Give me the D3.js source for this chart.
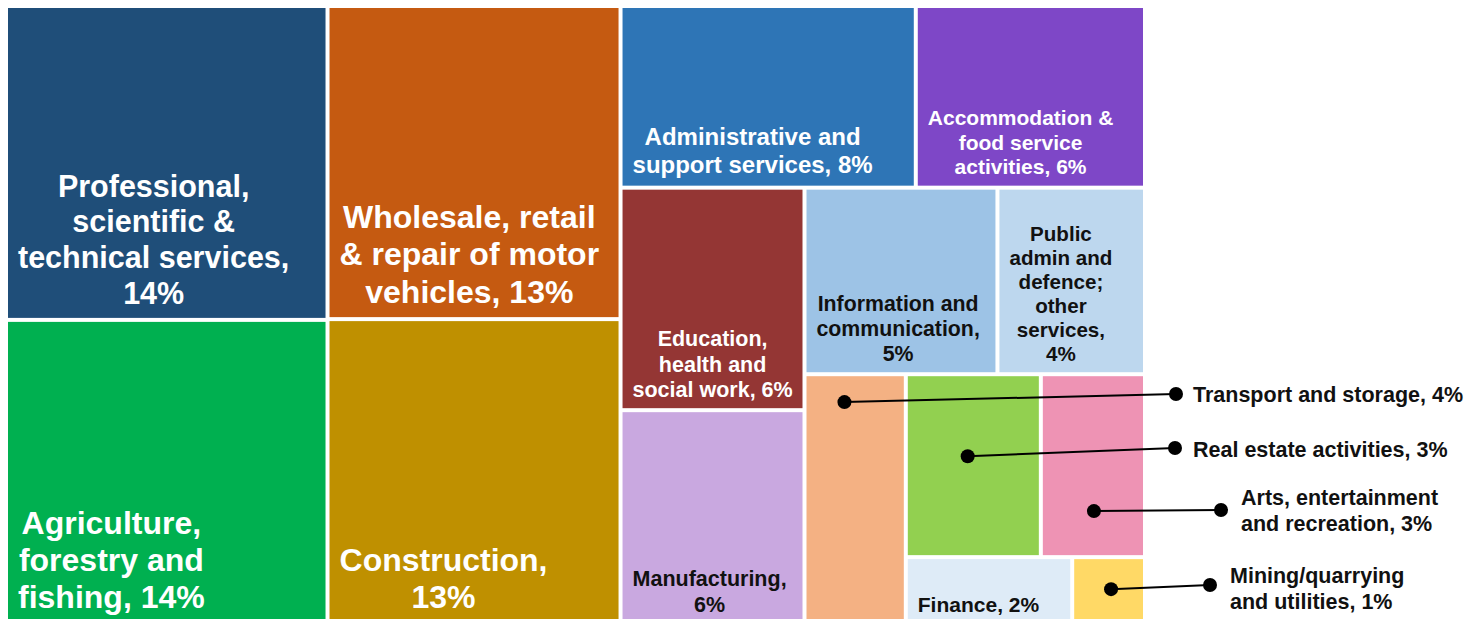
<!DOCTYPE html>
<html>
<head>
<meta charset="utf-8">
<script src="https://cdn.jsdelivr.net/npm/d3@7"></script>
<style>
  body { margin: 0; background: #fff; }
  svg { display: block; font-family: "Liberation Sans", Arial, sans-serif; font-weight: bold; }
</style>
</head>
<body>
<div id="chart"></div>
<script>
// Share of businesses by sector (%)
const sectors = [
  "Professional, scientific & technical services",
  "Agriculture, forestry and fishing",
  "Wholesale, retail & repair of motor vehicles",
  "Construction",
  "Administrative and support services",
  "Accommodation & food service activities",
  "Education, health and social work",
  "Manufacturing",
  "Information and communication",
  "Public admin and defence; other services",
  "Transport and storage",
  "Real estate activities",
  "Arts, entertainment and recreation",
  "Finance",
  "Mining/quarrying and utilities"
];
const shares = [14.3, 13.9, 13.0, 12.7, 7.6, 5.9, 5.8, 5.6, 5.1, 3.9, 3.6, 3.5, 2.7, 1.6, 0.7];
const colours = ["#1F4E79", "#00B050", "#C55A11", "#BF9000", "#2E75B6", "#7E47C7", "#943634",
                 "#C9A8E0", "#9DC3E6", "#BDD7EE", "#F4B183", "#92D050", "#EE93B4", "#DEEBF7", "#FFD966"];

// label text, wrapped as in the original
const labelLines = [
  ["Professional,", "scientific &", "technical services,", "14%"],
  ["Agriculture,", "forestry and", "fishing, 14%"],
  ["Wholesale, retail", "& repair of motor", "vehicles, 13%"],
  ["Construction,", "13%"],
  ["Administrative and", "support services, 8%"],
  ["Accommodation &", "food service", "activities, 6%"],
  ["Education,", "health and", "social work, 6%"],
  ["Manufacturing,", "6%"],
  ["Information and", "communication,", "5%"],
  ["Public", "admin and", "defence;", "other", "services,", "4%"],
  ["Transport and storage, 4%"],
  ["Real estate activities, 3%"],
  ["Arts, entertainment", "and recreation, 3%"],
  ["Finance, 2%"],
  ["Mining/quarrying", "and utilities, 1%"]
];

// nesting of the tiles (indices into the arrays above)
const nesting = [[0, 1], [2, 3], [[4, 5], [[6, 7], [[8, 9], [10, [[11, 12], [13, 14]]]]]]];

const width = 1468, height = 619;
const margin = { top: 8, left: 8 };
const mapW = 1135, mapH = 615;

const svg = d3.select("#chart").append("svg")
    .attr("width", width)
    .attr("height", height);

function build(n) {
  if (typeof n === "number") return { i: n, value: shares[n] };
  return { children: n.map(build) };
}

const root = d3.hierarchy(build(nesting)).sum(d => d.value || 0);

d3.treemap()
    .tile(d3.treemapSliceDice)
    .size([mapW, mapH])
    .paddingInner(4)
    .round(false)(root);

const leaves = root.leaves();
const g = svg.append("g").attr("transform", `translate(${margin.left},${margin.top})`);

g.selectAll("rect")
  .data(leaves)
  .enter()
  .append("rect")
    .attr("x", d => d.x0)
    .attr("y", d => d.y0)
    .attr("width", d => d.x1 - d.x0)
    .attr("height", d => d.y1 - d.y0)
    .attr("fill", d => colours[d.data.i]);

// labels inside tiles: block sits 10px from the left, lines centred in block, bottom aligned
const inside = { 0: 30.5, 1: 32, 2: 32, 3: 32, 4: 24, 5: 21, 6: 21.5, 7: 21.5, 8: 21.3, 9: 20.6, 13: 21 };
const darkText = [7, 8, 9, 13];

leaves.filter(d => inside[d.data.i]).forEach(d => {
  const i = d.data.i, fs = inside[i], lines = labelLines[i];
  const lh = fs * 1.17;
  const last = d.y1 - (5 + fs * 0.3);
  const t = g.append("text")
      .attr("font-size", fs)
      .attr("fill", darkText.includes(i) ? "#111" : "#fff")
      .attr("text-anchor", "middle");
  const spans = lines.map((s, k) => t.append("tspan")
      .attr("y", last - (lines.length - 1 - k) * lh)
      .text(s));
  const maxW = d3.max(spans, s => s.node().getComputedTextLength());
  spans.forEach(s => s.attr("x", d.x0 + 10 + maxW / 2));
});

// callouts for the small tiles
const callouts = [
  { i: 10, fx: 0.39, fy: 0.105, dot: [1176, 394], tx: 1193, ty: 401.5 },
  { i: 11, fx: 0.457, fy: 0.447, dot: [1175, 448], tx: 1193, ty: 456.5 },
  { i: 12, fx: 0.51, fy: 0.754, dot: [1221, 510], tx: 1241, ty: 504.5 },
  { i: 14, fx: 0.536, fy: 0.47, dot: [1210, 585], tx: 1230, ty: 582.5 }
];

callouts.forEach(c => {
  const d = leaves.find(l => l.data.i === c.i);
  const ax = margin.left + d.x0 + c.fx * (d.x1 - d.x0);
  const ay = margin.top + d.y0 + c.fy * (d.y1 - d.y0);
  svg.append("line")
      .attr("x1", ax).attr("y1", ay)
      .attr("x2", c.dot[0]).attr("y2", c.dot[1])
      .attr("stroke", "#000")
      .attr("stroke-width", 2);
  svg.append("circle").attr("cx", ax).attr("cy", ay).attr("r", 7).attr("fill", "#000");
  svg.append("circle").attr("cx", c.dot[0]).attr("cy", c.dot[1]).attr("r", 7).attr("fill", "#000");
  const t = svg.append("text").attr("font-size", 21.5).attr("fill", "#111");
  labelLines[c.i].forEach((s, k) => {
    t.append("tspan").attr("x", c.tx).attr("y", c.ty + k * 26).text(s);
  });
});
</script>
</body>
</html>
